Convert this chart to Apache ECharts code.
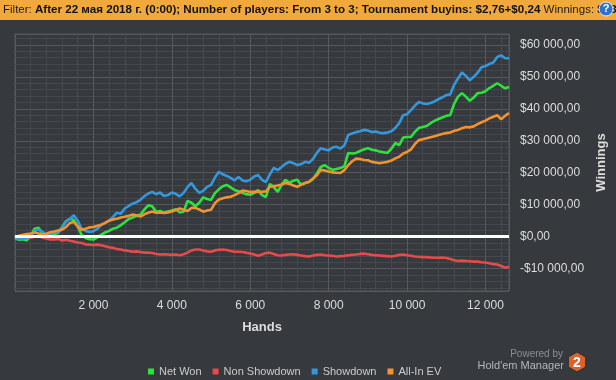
<!DOCTYPE html>
<html>
<head>
<meta charset="utf-8">
<script src="https://cdn.jsdelivr.net/npm/echarts@6/dist/echarts.min.js"></script>
<style>
html,body{margin:0;padding:0;background:#36393d;}
#c{width:616px;height:380px;}
</style>
</head>
<body>
<div id="c"></div>
<script>
const seriesNames = ['Net Won', 'Non Showdown', 'Showdown', 'All-In EV'];
const seriesColors = ['#2ee23e', '#e64b4b', '#3598dc', '#f39231'];

const hands = [
0,100,200,300,400,500,600,700,800,900,
1000,1100,1200,1300,1400,1500,1600,1700,1800,1900,
2000,2100,2200,2300,2400,2500,2600,2700,2800,2900,
3000,3100,3200,3300,3400,3500,3600,3700,3800,3900,
4000,4100,4200,4300,4400,4500,4600,4700,4800,4900,
5000,5100,5200,5300,5400,5500,5600,5700,5800,5900,
6000,6100,6200,6300,6400,6500,6600,6700,6800,6900,
7000,7100,7200,7300,7400,7500,7600,7700,7800,7900,
8000,8100,8200,8300,8400,8500,8600,8700,8800,8900,
9000,9100,9200,9300,9400,9500,9600,9700,9800,9900,
10000,10100,10200,10300,10400,10500,10600,10700,10800,10900,
11000,11100,11200,11300,11400,11500,11600,11700,11800,11900,
12000,12100,12200,12300,12400,12500,12600];

const netWon = [
-500,-1000,-800,-1200,200,2500,2800,1000,200,0,
700,1200,3000,4800,5600,5200,3100,500,-400,-800,
-900,-200,600,1300,1800,2500,2800,3600,4500,5500,
6000,6500,6900,8500,9800,9500,7800,8000,7600,7900,
8200,8600,7600,7800,11200,10600,9500,10600,12300,11800,
11500,13600,14800,15800,16200,15400,14600,14200,13700,13300,
13100,13700,14600,13000,12400,16500,15500,14000,16200,17800,
16800,17500,17800,16200,16800,17100,18000,19800,21800,22400,
21500,20900,21200,21500,22000,26200,26000,26200,26800,27300,
27700,27200,27000,26600,26400,26200,27500,29300,28600,31000,
31200,31200,32800,34000,34300,34600,35500,36200,36800,37300,
37800,38000,41500,43800,44900,43800,42500,43500,44900,45000,
45500,46500,47200,48000,47200,46400,46800];

const nonShowdown = [
-500,-400,-200,-100,-300,0,200,-300,-600,-900,
-900,-700,-1200,-1000,-1300,-1500,-1800,-2000,-2400,-2500,
-2600,-2500,-2700,-3000,-3300,-3500,-3900,-4000,-4300,-4500,
-4700,-4600,-4800,-5000,-5000,-5100,-5400,-5600,-5500,-5600,
-5700,-5600,-5800,-5500,-5000,-4300,-4000,-4000,-4300,-4600,
-4700,-4300,-4100,-4000,-4200,-4500,-4700,-4700,-4800,-5000,
-5300,-5600,-6000,-5600,-5100,-5000,-5400,-5800,-5900,-5700,
-5600,-5500,-5700,-5900,-6100,-6200,-5900,-5700,-5600,-5800,
-5900,-6000,-6200,-6100,-6000,-5800,-5700,-5600,-5400,-5300,
-5500,-5700,-5800,-5900,-6000,-6100,-6200,-6000,-5700,-5600,
-5800,-6000,-6200,-6300,-6400,-6400,-6500,-6600,-6600,-6500,
-6700,-7000,-7400,-7600,-7500,-7600,-7700,-7800,-7800,-8000,
-8100,-8300,-8600,-8700,-9200,-9700,-9400];

const showdown = [
0,-800,-600,-400,300,1800,2200,1500,600,800,
1500,1200,2800,4800,5600,6700,5000,2400,1800,1500,
1700,2400,3700,4300,5000,6200,7500,7200,8800,9600,
10300,10800,11500,12700,13500,14000,13300,13800,12700,13000,
13800,13400,12600,13700,15500,16800,15000,13700,14300,15600,
16200,18500,20300,19500,19000,18400,17600,18700,17600,17300,
17800,18800,19300,17800,17100,19500,21500,20800,21800,22800,
23400,23000,22400,22700,23400,23100,24300,26200,27700,27300,
27000,27900,28100,27600,28500,31800,32300,32700,33000,33400,
33200,32700,32900,32500,32400,32600,33000,34000,35500,38000,
38300,39600,41000,42100,41700,41500,41800,42300,43000,43600,
44300,44500,47500,49500,51400,50300,48900,50000,51300,53000,
53400,54000,54500,56200,56700,55800,55800];

const allInEV = [
-300,300,600,800,1000,1300,1000,700,900,1400,
1600,1900,2200,3000,4300,4600,3200,2200,2500,2900,
3000,3400,3700,4300,5000,5400,5600,6000,6200,6500,
6900,6700,6300,7000,7500,7900,7500,7600,7400,7600,
7900,8300,8800,8400,8000,9000,9000,8500,7800,8200,
8400,10500,11600,12000,12300,12500,13000,13600,14400,14300,
14000,14000,14100,14000,14200,15600,15800,16000,16300,16800,
16500,16000,15600,16300,16800,17200,18200,19200,20900,20700,
20400,20100,20000,19900,20800,22400,23600,24400,24300,24000,
23900,23400,23200,23000,23200,23400,23800,24500,25000,26000,
26500,27300,29000,30200,30500,30800,31100,31400,31800,32100,
32400,32600,33100,33400,33900,34300,34200,34500,35200,35800,
36300,37000,37500,38000,36700,37800,38700];

const seriesValues = [netWon, nonShowdown, showdown, allInEV];

const xMin = 0, xMax = 12600, xStep = 2000;
const yMin = -17000, yMax = 63400, yStep = 10000;

const FONT = '"Liberation Sans", Arial, sans-serif';
const filterLabel = 'Filter: ';
const filterBold = 'After 22 мая 2018 г. (0:00); Number of players: From 3 to 3; Tournament buyins: $2,76+$0,24 ';
const winLabel = 'Winnings: ';
const winBold = '$43 ';

function groupThousands(n) {
  return String(n).replace(/\B(?=(\d{3})+(?!\d))/g, ' ');
}
function fmtMoney(v) {
  const neg = v < 0;
  return (neg ? '-' : '') + '$' + groupThousands(Math.round(Math.abs(v))) + ',00';
}

const chart = echarts.init(document.getElementById('c'), null, {renderer: 'canvas'});

const gridLineMajor = '#56595d';
const gridLineMinor = '#45484c';

const series = seriesNames.map((name, i) => ({
  name: name,
  type: 'line',
  data: hands.map((h, k) => [h, seriesValues[i][k]]),
  showSymbol: false,
  symbol: 'none',
  color: seriesColors[i],
  lineStyle: {width: 2.6, color: seriesColors[i]},
  animation: false,
  z: 3
}));
series.push({
  name: 'zero',
  type: 'line',
  data: [],
  z: 10,
  markLine: {
    silent: true,
    symbol: ['none', 'none'],
    label: {show: false},
    lineStyle: {color: '#ffffff', width: 3, type: 'solid'},
    data: [{yAxis: 0}],
    animation: false
  }
});

const hexR = 10, hexCx = 577, hexCy = 362;
const hexPts = [];
for (let i = 0; i < 6; i++) {
  const a = Math.PI / 180 * (60 * i - 90);
  hexPts.push([hexCx + hexR * Math.cos(a), hexCy + hexR * Math.sin(a)]);
}

chart.setOption({
  backgroundColor: '#36393d',
  animation: false,
  textStyle: {fontFamily: FONT},
  grid: {left: 15, right: 107, top: 34, bottom: 89, show: true, borderColor: gridLineMajor, borderWidth: 1, backgroundColor: 'transparent'},
  legend: {
    data: seriesNames,
    left: 143,
    top: 361,
    icon: 'rect',
    itemWidth: 6,
    itemHeight: 6,
    itemGap: 11,
    textStyle: {color: '#cccccc', fontSize: 11, fontFamily: FONT}
  },
  xAxis: {
    type: 'value',
    min: xMin,
    max: xMax,
    interval: xStep,
    name: 'Hands',
    nameLocation: 'middle',
    nameGap: 30,
    nameTextStyle: {color: '#dddddd', fontWeight: 'bold', fontSize: 13, fontFamily: FONT},
    axisLine: {show: true, lineStyle: {color: gridLineMajor}},
    axisTick: {show: true, length: 5, lineStyle: {color: gridLineMajor}},
    minorTick: {show: true, splitNumber: 5, length: 5, lineStyle: {color: gridLineMinor}},
    splitLine: {show: true, lineStyle: {color: gridLineMajor}},
    minorSplitLine: {show: true, lineStyle: {color: gridLineMinor}},
    axisLabel: {
      color: '#dddddd', fontSize: 12, fontFamily: FONT, margin: 9,
      showMinLabel: false, showMaxLabel: false,
      formatter: v => groupThousands(v)
    }
  },
  yAxis: {
    type: 'value',
    position: 'right',
    min: yMin,
    max: yMax,
    minInterval: yStep,
    maxInterval: yStep,
    name: 'Winnings',
    nameLocation: 'middle',
    nameRotate: 90,
    nameGap: 76,
    nameTextStyle: {color: '#dddddd', fontWeight: 'bold', fontSize: 13, fontFamily: FONT},
    axisLine: {show: true, lineStyle: {color: gridLineMajor}},
    axisTick: {show: true, length: 6, lineStyle: {color: gridLineMajor}},
    minorTick: {show: true, splitNumber: 5, length: 5, lineStyle: {color: gridLineMinor}},
    splitLine: {show: true, lineStyle: {color: gridLineMajor}},
    minorSplitLine: {show: true, lineStyle: {color: gridLineMinor}},
    axisLabel: {
      color: '#dddddd', fontSize: 12, fontFamily: FONT, margin: 11,
      showMinLabel: false, showMaxLabel: false,
      formatter: v => fmtMoney(v)
    }
  },
  series: series,
  graphic: [
    {type: 'rect', left: 0, top: 0, shape: {width: 616, height: 20}, style: {fill: '#f1a93c'}, z: 100},
    {type: 'text', left: 3, top: 4, z: 101, style: {
      text: '{n|' + filterLabel + '}{b|' + filterBold + '}{n|' + winLabel + '}{b|' + winBold + '}',
      rich: {
        n: {fill: '#1b1b1b', font: '11.5px ' + FONT},
        b: {fill: '#111111', font: 'bold 11.6px ' + FONT}
      }
    }},
    {type: 'circle', shape: {cx: 606, cy: 9, r: 7}, style: {fill: '#2f74c4', stroke: '#e8eef8', lineWidth: 1}, z: 102},
    {type: 'text', x: 606, y: 9, z: 103, style: {text: '?', fill: '#ffffff', font: 'bold 11px ' + FONT, align: 'center', verticalAlign: 'middle'}},
    {type: 'text', x: 563, y: 354, z: 101, style: {text: 'Powered by', fill: '#8c8f92', font: '10px ' + FONT, align: 'right', verticalAlign: 'middle'}},
    {type: 'text', x: 564, y: 366, z: 101, style: {text: "Hold'em Manager", fill: '#b4b7ba', font: '11px ' + FONT, align: 'right', verticalAlign: 'middle'}},
    {type: 'polygon', shape: {points: hexPts}, style: {fill: '#d9632a', stroke: '#2b2d30', lineWidth: 1}, z: 101},
    {type: 'text', x: hexCx, y: hexCy + 1, z: 102, style: {text: '2', fill: '#ffffff', font: 'bold 14px ' + FONT, align: 'center', verticalAlign: 'middle'}}
  ]
});
</script>
</body>
</html>
